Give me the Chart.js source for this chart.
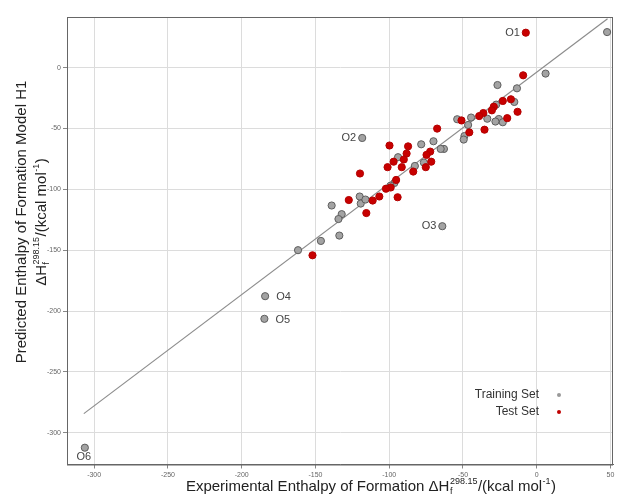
<!DOCTYPE html>
<html>
<head>
<meta charset="utf-8">
<script src="https://cdn.jsdelivr.net/npm/chart.js@4/dist/chart.umd.min.js"></script>
<style>
  body { margin: 0; background: #fff; }
  canvas { display: block; }
</style>
</head>
<body>
<canvas id="myChart" width="618" height="498"></canvas>
<script>
// training set (grey)
const trainX = [47.7, 6, -26.6, -13.4, -15.2, -27.5, -33.5, -25.7, -23, -28, -44.5, -53.9, -46.5, -49, -49.5,
  -64, -62.9, -65.1, -70, -78.3, -76.5, -82.6, -94, -96.5, -99.1, -118.3, -120, -119.3, -116.1,
  -139, -132.2, -134.4, -133.8, -146.3, -161.8, -184.1, -184.6, -306.3];
const trainY = [29.2, -4.9, -14.3, -17, -28.2, -30.4, -42, -42.2, -44.9, -44.3, -41, -42.4, -47.1, -56.2, -59.1,
  -130.3, -66.8, -66.8, -60.5, -63, -78, -80.8, -73.6, -94.8, -97, -57.8, -105.9, -111.7, -108.4,
  -113.3, -120.4, -124.4, -138, -142.4, -150, -187.8, -206.4, -312.3];

// test set (red)
const testX = [-7.4, -9.2, -17.5, -23, -13, -29.1, -30.4, -36.2, -39, -20, -35.4, -51, -45.7, -67.5,
  -99.8, -87.2, -88.2, -72.2, -74.7, -97, -90.1, -101.1, -91.5, -71.5, -75.2, -83.7, -119.8,
  -95.3, -99, -102.2, -94.3, -106.7, -111.2, -115.5, -127.4, -152];
const testY = [28.7, -6.3, -26, -27.4, -36.3, -32.1, -35.1, -37.3, -39.8, -41.5, -51, -43.4, -53.2, -50.1,
  -64, -64.7, -70.6, -69, -71.7, -77.3, -75.5, -81.8, -81.8, -77.3, -81.8, -85.4, -87,
  -92.3, -98.5, -99.5, -106.5, -105.9, -109.2, -119.5, -108.8, -154.2];

// fitted line end points
const fitX = [-307, 48];
const fitY = [-284.3, 40.2];

const xTicks = [-300, -250, -200, -150, -100, -50, 0, 50];
const yTicks = [-300, -250, -200, -150, -100, -50, 0];

// outlier labels
const outliers = [
  { name: 'O1', x: -7.4, y: 28.7, side: 'left' },
  { name: 'O2', x: -118.3, y: -57.8, side: 'left' },
  { name: 'O3', x: -64, y: -130.3, side: 'left' },
  { name: 'O4', x: -184.1, y: -187.8, side: 'right' },
  { name: 'O5', x: -184.6, y: -206.4, side: 'right' },
  { name: 'O6', x: -306.3, y: -312.3, side: 'below' }
];

const FONT = '"Liberation Sans", Arial, sans-serif';

// draws text with stacked sub/superscripts, parts: [text, {sub, sup}, ...]
function richWidth(ctx, parts, size) {
  let w = 0;
  parts.forEach(p => {
    if (typeof p === 'string') {
      ctx.font = size + 'px ' + FONT;
      w += ctx.measureText(p).width;
    } else {
      ctx.font = Math.round(size * 0.62) + 'px ' + FONT;
      w += Math.max(p.sub ? ctx.measureText(p.sub).width : 0, p.sup ? ctx.measureText(p.sup).width : 0) + 1;
    }
  });
  return w;
}

function drawRich(ctx, parts, cx, y, size) {
  let x = cx - richWidth(ctx, parts, size) / 2;
  ctx.textAlign = 'left';
  ctx.textBaseline = 'alphabetic';
  parts.forEach(p => {
    if (typeof p === 'string') {
      ctx.font = size + 'px ' + FONT;
      ctx.fillText(p, x, y);
      x += ctx.measureText(p).width;
    } else {
      ctx.font = Math.round(size * 0.62) + 'px ' + FONT;
      let w = 0;
      if (p.sup) { ctx.fillText(p.sup, x + 0.5, y - size * 0.45); w = ctx.measureText(p.sup).width; }
      if (p.sub) { ctx.fillText(p.sub, x + 0.5, y + size * 0.2); w = Math.max(w, ctx.measureText(p.sub).width); }
      x += w + 1;
    }
  });
}

const decorPlugin = {
  id: 'decor',
  afterDraw: (chart) => {
    const ctx = chart.ctx;
    const a = chart.chartArea;
    const xs = chart.scales.x;
    const ys = chart.scales.y;

    ctx.save();
    // plot box
    ctx.strokeStyle = '#666';
    ctx.lineWidth = 1;
    ctx.strokeRect(a.left + 0.5, a.top + 0.5, a.right - a.left - 1, a.bottom - a.top);

    // outlier labels
    ctx.fillStyle = '#444';
    ctx.font = '11px ' + FONT;
    outliers.forEach(o => {
      const px = xs.getPixelForValue(o.x);
      const py = ys.getPixelForValue(o.y);
      if (o.side === 'left') {
        ctx.textAlign = 'right'; ctx.textBaseline = 'middle';
        ctx.fillText(o.name, px - 6, py);
      } else if (o.side === 'right') {
        ctx.textAlign = 'left'; ctx.textBaseline = 'middle';
        ctx.fillText(o.name, px + 11, py + 1);
      } else {
        ctx.textAlign = 'center'; ctx.textBaseline = 'top';
        ctx.fillText(o.name, px - 1, py + 4);
      }
    });

    // legend
    ctx.font = '12px ' + FONT;
    ctx.textAlign = 'right';
    ctx.textBaseline = 'middle';
    ctx.fillStyle = '#333';
    ctx.fillText('Training Set', 539, 395);
    ctx.fillText('Test Set', 539, 412);
    ctx.beginPath(); ctx.arc(559, 395, 2, 0, Math.PI * 2);
    ctx.fillStyle = '#999'; ctx.fill();
    ctx.beginPath(); ctx.arc(559, 412, 2, 0, Math.PI * 2);
    ctx.fillStyle = '#c00000'; ctx.fill();

    // axis titles
    ctx.fillStyle = '#222';
    drawRich(ctx, ['Experimental Enthalpy of Formation \u0394H', { sub: 'f', sup: '298.15' }, '/(kcal mol', { sup: '-1' }, ')'], 371, 491, 15);

    ctx.translate(26, 222);
    ctx.rotate(-Math.PI / 2);
    drawRich(ctx, ['Predicted Enthalpy of Formation Model H1'], 0, 0, 15);
    drawRich(ctx, ['\u0394H', { sub: 'f', sup: '298.15' }, '/(kcal mol', { sup: '-1' }, ')'], 0, 20, 15);
    ctx.restore();
  }
};

new Chart(document.getElementById('myChart').getContext('2d'), {
  type: 'scatter',
  data: {
    datasets: [
      {
        label: 'Fit',
        type: 'line',
        data: fitX.map((x, i) => ({ x: x, y: fitY[i] })),
        borderColor: '#8c8c8c',
        borderWidth: 1.2,
        pointRadius: 0,
        fill: false,
        order: 3
      },
      {
        label: 'Training Set',
        data: trainX.map((x, i) => ({ x: x, y: trainY[i] })),
        backgroundColor: '#a3a3a3',
        borderColor: '#5e5e5e',
        borderWidth: 1,
        pointRadius: 3.6,
        order: 2
      },
      {
        label: 'Test Set',
        data: testX.map((x, i) => ({ x: x, y: testY[i] })),
        backgroundColor: '#c80000',
        borderColor: '#b30000',
        borderWidth: 1,
        pointRadius: 3.6,
        order: 1
      }
    ]
  },
  options: {
    responsive: false,
    animation: false,
    devicePixelRatio: 1,
    layout: { padding: { left: 0, top: 17, right: 1, bottom: 0 } },
    plugins: {
      legend: { display: false },
      tooltip: { enabled: false }
    },
    scales: {
      x: {
        type: 'linear',
        min: -318.4,
        max: 51.7,
        afterBuildTicks: (scale) => { scale.ticks = xTicks.map(v => ({ value: v })); },
        afterFit: (scale) => { scale.height = 33.5; },
        ticks: { color: '#666', font: { size: 7, family: FONT }, padding: 2, maxRotation: 0 },
        grid: { color: '#dcdcdc', tickColor: '#888', tickLength: 4 },
        border: { color: '#666' }
      },
      y: {
        type: 'linear',
        min: -326.1,
        max: 41.6,
        afterBuildTicks: (scale) => { scale.ticks = yTicks.map(v => ({ value: v })); },
        afterFit: (scale) => { scale.width = 67; },
        ticks: { color: '#666', font: { size: 7, family: FONT }, padding: 2 },
        grid: { color: '#dcdcdc', tickColor: '#888', tickLength: 4 },
        border: { color: '#666' }
      }
    }
  },
  plugins: [decorPlugin]
});
</script>
</body>
</html>
